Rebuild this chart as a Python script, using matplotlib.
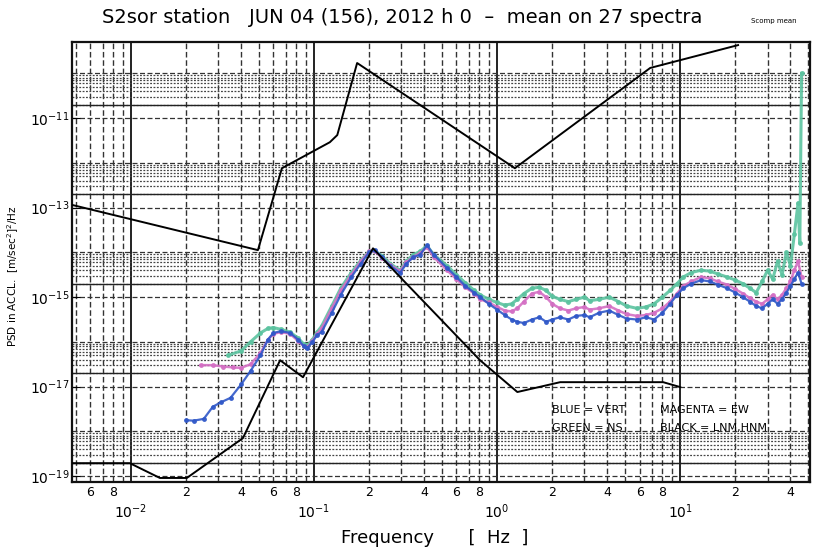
import matplotlib
matplotlib.use("Agg")
import matplotlib.pyplot as plt
import matplotlib.ticker as mticker
import numpy as np

plt.rcParams['font.family'] = ['DejaVu Sans']

# ---- data (frequency in Hz, log10 of PSD) ----
nhnm_f = [0.00477, 0.0494, 0.0668, 0.122, 0.134, 0.172, 1.25, 6.86, 20.7]
nhnm_log = [-12.94, -13.95, -12.12, -11.54, -11.38, -9.77, -12.12, -9.88, -9.37]

nlnm_f = [0.00477, 0.00987, 0.0144, 0.0202, 0.0409, 0.0653, 0.0871, 0.21, 0.295,
          0.807, 1.29, 2.21, 8.07, 10.0]
nlnm_log = [-18.71, -18.71, -19.04, -19.04, -18.15, -16.41, -16.79, -13.91, -14.55,
            -16.41, -17.12, -16.90, -16.90, -17.01]

blue_f = [0.020, 0.022, 0.025, 0.028, 0.031, 0.035, 0.040, 0.045, 0.051, 0.056,
          0.060, 0.066, 0.074, 0.082, 0.088, 0.092, 0.098, 0.104, 0.110, 0.125,
          0.140, 0.160, 0.180, 0.200, 0.215, 0.235, 0.260, 0.295, 0.320, 0.348,
          0.380, 0.414, 0.450, 0.533, 0.600, 0.670, 0.750, 0.810, 0.900, 1.00,
          1.10, 1.20, 1.29, 1.40, 1.55, 1.70, 1.85, 2.0, 2.2, 2.45,
          2.7, 3.0, 3.2, 3.6, 4.1, 4.6, 5.1, 5.8, 6.5, 7.2,
          8.0, 8.8, 9.6, 10.4, 11.5, 13.0, 14.5, 16.0, 18.0, 20.0,
          22.0, 24.0, 26.0, 28.0, 30.0, 32.0, 34.0, 36.0, 38.0, 40.0,
          42.0, 44.0, 46.0]
blue_log = [-17.75, -17.76, -17.72, -17.45, -17.35, -17.25, -16.95, -16.65, -16.30, -15.95,
            -15.80, -15.76, -15.80, -15.95, -16.10, -16.14, -16.00, -15.85, -15.78, -15.35,
            -14.95, -14.55, -14.25, -14.00, -13.95, -14.10, -14.30, -14.46, -14.25, -14.11,
            -14.05, -13.84, -14.05, -14.35, -14.55, -14.75, -14.90, -15.00, -15.15, -15.28,
            -15.40, -15.50, -15.55, -15.58, -15.50, -15.45, -15.55, -15.50, -15.45, -15.50,
            -15.42, -15.40, -15.45, -15.35, -15.30, -15.40, -15.48, -15.50, -15.45, -15.50,
            -15.35, -15.15, -14.95, -14.80, -14.70, -14.62, -14.65, -14.72, -14.80, -14.90,
            -15.00, -15.10, -15.20, -15.25, -15.15, -15.05, -15.15, -15.05, -14.90, -14.75,
            -14.60, -14.45, -14.70]

magenta_f = [0.024, 0.028, 0.032, 0.036, 0.040, 0.045, 0.051, 0.056,
             0.060, 0.066, 0.074, 0.082, 0.088, 0.092, 0.098, 0.104, 0.110, 0.125,
             0.140, 0.160, 0.180, 0.200, 0.215, 0.235, 0.260, 0.295, 0.320, 0.348,
             0.380, 0.414, 0.450, 0.533, 0.600, 0.670, 0.750, 0.810, 0.900, 1.00,
             1.10, 1.20, 1.29, 1.40, 1.55, 1.70, 1.85, 2.0, 2.2, 2.45,
             2.7, 3.0, 3.2, 3.6, 4.1, 4.6, 5.1, 5.8, 6.5, 7.2,
             8.0, 8.8, 9.6, 10.4, 11.5, 13.0, 14.5, 16.0, 18.0, 20.0,
             22.0, 24.0, 26.0, 28.0, 30.0, 32.0, 34.0, 36.0, 38.0, 40.0,
             42.0, 44.0, 46.0]
magenta_log = [-16.52, -16.52, -16.55, -16.57, -16.58, -16.50, -16.25, -15.95,
               -15.82, -15.78, -15.82, -15.98, -16.10, -16.12, -15.98, -15.82, -15.70, -15.25,
               -14.85, -14.50, -14.20, -13.98, -13.97, -14.12, -14.28, -14.42, -14.22, -14.10,
               -14.02, -13.88, -14.10, -14.40, -14.60, -14.78, -14.92, -15.05, -15.12, -15.22,
               -15.30, -15.32, -15.25, -15.10, -14.92, -14.88, -15.00, -15.15, -15.25, -15.30,
               -15.25, -15.22, -15.28, -15.25, -15.20, -15.30, -15.38, -15.42, -15.40, -15.35,
               -15.25, -15.10, -14.92, -14.75, -14.65, -14.55, -14.58, -14.65, -14.72, -14.82,
               -14.92, -15.02, -15.10, -15.15, -15.05, -14.95, -15.05, -14.95, -14.80, -14.65,
               -14.40, -14.20, -14.55]

green_f = [0.034, 0.040, 0.045, 0.051, 0.056,
           0.060, 0.066, 0.074, 0.082, 0.088, 0.092, 0.098, 0.104, 0.110, 0.125,
           0.140, 0.160, 0.180, 0.200, 0.215, 0.235, 0.260, 0.295, 0.320, 0.348,
           0.380, 0.414, 0.450, 0.533, 0.600, 0.670, 0.750, 0.810, 0.900, 1.00,
           1.10, 1.20, 1.29, 1.40, 1.55, 1.70, 1.85, 2.0, 2.2, 2.45,
           2.7, 3.0, 3.2, 3.6, 4.1, 4.6, 5.1, 5.8, 6.5, 7.2,
           8.0, 8.8, 9.6, 10.4, 11.5, 13.0, 14.5, 16.0, 18.0, 20.0,
           22.0, 24.0, 26.0, 28.0, 30.0, 32.0, 34.0, 36.0, 38.0, 40.0,
           42.0, 44.0, 45.0, 46.0]
green_log = [-16.30, -16.20, -16.00, -15.80, -15.70,
             -15.68, -15.72, -15.78, -15.92, -16.05, -16.08, -15.95, -15.78, -15.65, -15.20,
             -14.80, -14.45, -14.18, -13.98, -13.96, -14.08, -14.25, -14.40, -14.20, -14.05,
             -13.98, -13.85, -14.05, -14.30, -14.50, -14.68, -14.85, -14.95, -15.05, -15.12,
             -15.18, -15.15, -15.05, -14.92, -14.80, -14.78, -14.85, -14.98, -15.05, -15.10,
             -15.05, -15.00, -15.08, -15.05, -15.00, -15.10, -15.20, -15.25, -15.22, -15.15,
             -15.00, -14.85, -14.70, -14.55, -14.45, -14.40, -14.42, -14.48, -14.55, -14.62,
             -14.70, -14.80, -14.90, -14.65, -14.40, -14.60, -14.20, -14.50, -14.00, -14.30,
             -13.60, -12.90, -13.80, -10.00]

major_f = [1e-2, 1e-1, 1e0, 1e1]
major_f_labels = [r'$10^{-2}$', r'$10^{-1}$', r'$10^{0}$', r'$10^{1}$']
minor_f = [6e-3, 8e-3, 2e-2, 4e-2, 6e-2, 8e-2, 0.2, 0.4, 0.6, 0.8,
           2, 4, 6, 8, 20, 40]
minor_f_labels = ['6', '8', '2', '4', '6', '8', '2', '4', '6', '8',
                  '2', '4', '6', '8', '2', '4']
y_exponents = [-19, -17, -15, -13, -11]

title = 'S2sor station   JUN 04 (156), 2012 h 0  \u2013  mean on 27 spectra'

# ---- figure ----
fig = plt.figure(figsize=(8.13, 5.53), dpi=100)
ax = fig.add_axes([0.0886, 0.1284, 0.908, 0.7957])
ax.set_xscale('log')
ax.set_yscale('log')
ax.set_xlim(0.00477, 51.3)
ax.set_ylim(10**-19.13, 10**-9.30)

# grid: vertical lines at every 1..9 x decade, dotted bands above each labelled decade
for dec in [1e-3, 1e-2, 1e-1, 1e0, 1e1]:
    for m in range(1, 10):
        v = m * dec
        if 0.00477 < v < 51.3:
            if m == 1:
                ax.axvline(v, color='#222222', lw=1.4, zorder=1)
            else:
                ax.axvline(v, color='#333333', lw=1.0, ls=(0, (4, 2)), zorder=1)
for e in range(-19, -9):
    ax.axhline(10.0**e, color='#333333', lw=0.9, ls=(0, (4, 2)), zorder=1)
for e in y_exponents:
    for m in range(2, 10):
        ax.axhline(m * 10.0**e, color='#444444', lw=0.9, ls=(0, (1.5, 1.2)), zorder=1)
    ax.axhline(2 * 10.0**e, color='#222222', lw=1.0, zorder=1)

# noise models
ax.plot(nhnm_f, 10**np.array(nhnm_log), color='black', lw=1.4, zorder=4)
ax.plot(nlnm_f, 10**np.array(nlnm_log), color='black', lw=1.4, zorder=4)

# spectra
ax.plot(green_f, 10**np.array(green_log), color='#5cc3a0', lw=2.2, marker='o',
        ms=2.5, alpha=0.9, zorder=3)
ax.plot(magenta_f, 10**np.array(magenta_log), color='#d46fc4', lw=1.8, marker='o',
        ms=2.5, alpha=0.9, zorder=3)
ax.plot(blue_f, 10**np.array(blue_log), color='#3058c8', lw=1.6, marker='o',
        ms=2.5, alpha=0.9, zorder=3)

# ticks
ax.xaxis.set_major_locator(mticker.FixedLocator(major_f))
ax.xaxis.set_major_formatter(mticker.FixedFormatter(major_f_labels))
ax.xaxis.set_minor_locator(mticker.FixedLocator(minor_f))
ax.xaxis.set_minor_formatter(mticker.FixedFormatter(minor_f_labels))
ax.tick_params(axis='x', which='major', pad=15, labelsize=10, length=0)
ax.tick_params(axis='x', which='minor', pad=3, labelsize=9, length=0)

ax.yaxis.set_major_locator(mticker.FixedLocator([10.0**e for e in y_exponents]))
ax.yaxis.set_major_formatter(mticker.FixedFormatter(
    [r'$10^{%d}$' % e for e in y_exponents]))
ax.yaxis.set_minor_locator(mticker.NullLocator())
ax.tick_params(axis='y', which='major', labelsize=10, length=6, direction='in', pad=2)

for s in ax.spines.values():
    s.set_linewidth(1.6)
    s.set_color('#111111')

# text
fig.text(0.495, 0.968, title, ha='center', va='center', fontsize=14)
fig.text(0.952, 0.962, 'Scomp mean', ha='center', va='center', fontsize=5)
fig.text(0.016, 0.50, 'PSD in ACCL.  [m/sec$^2$]$^2$/Hz', rotation=90,
         ha='center', va='center', fontsize=7.5)
fig.text(0.535, 0.028, 'Frequency      [  Hz  ]', ha='center', va='center', fontsize=13)

fig.text(0.679, 0.259, 'BLUE = VERT', fontsize=8, va='center')
fig.text(0.812, 0.259, 'MAGENTA = EW', fontsize=8, va='center')
fig.text(0.679, 0.226, 'GREEN = NS', fontsize=8, va='center')
fig.text(0.812, 0.226, 'BLACK = LNM,HNM', fontsize=8, va='center')

fig.savefig('out.png', dpi=100)
